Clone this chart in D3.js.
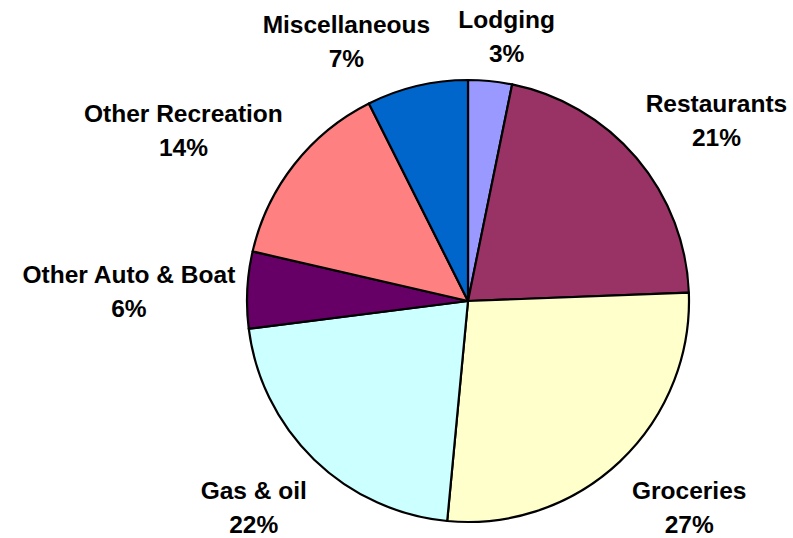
<!DOCTYPE html>
<html>
<head>
<meta charset="utf-8">
<script src="https://cdn.jsdelivr.net/npm/d3@7"></script>
<style>
    body { margin: 0; background: #fff; }
    svg { display: block; }
    .label { font-family: "Liberation Sans", Arial, sans-serif; font-weight: bold; font-size: 24.5px; fill: #000; }
</style>
</head>
<body>
<div id="chart"></div>
<script>
// slice data, clockwise from 12 o'clock
var categories = ["Lodging", "Restaurants", "Groceries", "Gas & oil", "Other Auto & Boat", "Other Recreation", "Miscellaneous"];
var shares = [3.2, 21.2, 27.1, 21.5, 5.6, 14.0, 7.4];
var colors = ["#9999FF", "#993366", "#FFFFCC", "#CCFFFF", "#660066", "#FF8080", "#0066CC"];

// small hand nudges for the label boxes (excel moves some of them)
var nudge = {
    "Lodging": [8, -5],
    "Restaurants": [0, -3],
    "Groceries": [4, 9],
    "Gas & oil": [1, 11],
    "Other Auto & Boat": [0, 4],
    "Other Recreation": [-2, -1],
    "Miscellaneous": [-39, -5]
};

var width = 793, height = 538;
var cx = 468, cy = 301, radius = 221;

var svg = d3.select("#chart")
        .append("svg")
        .attr("width", width)
        .attr("height", height);

var g = svg.append("g")
        .attr("transform", "translate(" + cx + "," + cy + ")");

var slices = categories.map(function (c, i) {
    return {name: c, value: shares[i], color: colors[i]};
});

var pie = d3.pie()
        .sort(null)
        .value(function (d) { return d.value; });

var arc = d3.arc()
        .innerRadius(0)
        .outerRadius(radius);

var arcs = pie(slices);

g.selectAll("path.slice")
        .data(arcs)
        .enter()
        .append("path")
        .attr("class", "slice")
        .attr("d", arc)
        .attr("fill", function (d) { return d.data.color; })
        .attr("stroke", "#000")
        .attr("stroke-width", 2.2)
        .attr("stroke-linejoin", "round");

// labels: two lines, placed just outside the rim at the slice middle
var total = d3.sum(shares);
var anchorR = radius + 12;
var boxH = 56;

arcs.forEach(function (d) {
    var mid = (d.startAngle + d.endAngle) / 2;
    var s = Math.sin(mid), c = Math.cos(mid);
    var ax = anchorR * s, ay = -anchorR * c;

    var t = g.append("text")
            .attr("class", "label")
            .attr("text-anchor", "middle");
    var l1 = t.append("tspan").text(d.data.name);
    var l2 = t.append("tspan").text(Math.round(d.data.value / total * 100) + "%");

    var w = Math.max(l1.node().getComputedTextLength(), l2.node().getComputedTextLength());
    var fx = Math.max(-1, Math.min(1, s * 1.5));
    var fy = Math.max(-1, Math.min(1, -c * 1.5));
    var n = nudge[d.data.name] || [0, 0];
    var bx = ax + fx * w / 2 + n[0];
    var by = ay + fy * boxH / 2 + n[1];

    l1.attr("x", bx).attr("y", by - 8);
    l2.attr("x", bx).attr("y", by + 25.5);
});
</script>
</body>
</html>
